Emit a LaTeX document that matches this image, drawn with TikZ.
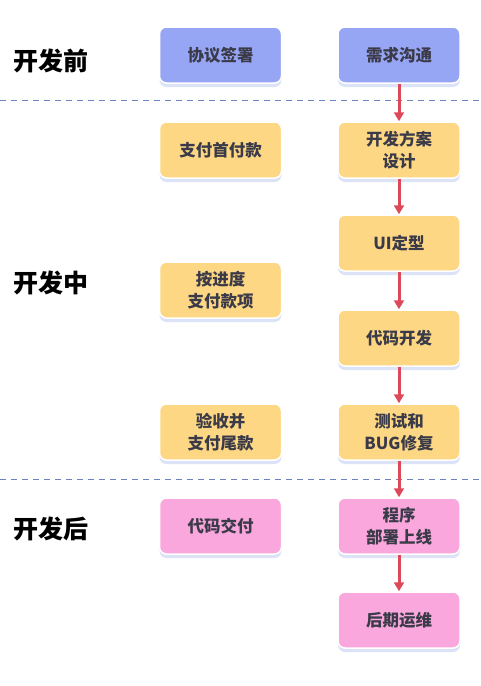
\documentclass[tikz,border=0pt]{standalone}
\usepackage{fontspec}
\setmainfont{Noto Sans CJK SC}
\usetikzlibrary{shadows,arrows.meta}
\definecolor{boxblue}{HTML}{97A6F4}
\definecolor{boxyellow}{HTML}{FDD783}
\definecolor{boxpink}{HTML}{F9A7DC}
\definecolor{boxtext}{HTML}{3A3A48}
\definecolor{arrowred}{HTML}{DC4A5A}
\definecolor{lineblue}{HTML}{6B84C0}
\definecolor{glow}{HTML}{9FB0EA}
\begin{document}
\begin{tikzpicture}[x=1pt,y=-1pt,
    box/.style={rectangle, rounded corners=7pt, draw=white, line width=1.5pt,
        minimum width=122pt, minimum height=56pt, align=center,
        font=\bfseries\fontsize{16.5}{22}\selectfont, text=boxtext,
        drop shadow={shadow xshift=0pt, shadow yshift=-4pt, fill=glow, opacity=0.35}},
    phase/.style={font=\bfseries\fontsize{25}{27}\selectfont, text=black},
    flow/.style={-{Triangle[width=10pt,length=9pt]}, draw=arrowred, line width=3pt},
    split/.style={draw=lineblue, line width=1pt, dash pattern=on 6pt off 5pt}]
        \useasboundingbox[fill=white] (0,0) rectangle (480,686);

        % phases
        \node[phase] (qian) at (51,61) {开发前};
        \node[phase] (zhong) at (51,283) {开发中};
        \node[phase] (hou) at (51,529) {开发后};

        \draw[split] (0,100) -- (480,100);
        \draw[split] (0,479) -- (480,479);

        % left column
        \node[box, fill=boxblue] (qianshu) at (220.5,55) {协议签署};
        \node[box, fill=boxyellow] (shoufu) at (220.5,150) {支付首付款};
        \node[box, fill=boxyellow] (jindu) at (220.5,290) {按进度\\支付款项};
        \node[box, fill=boxyellow] (weikuan) at (220.5,432) {验收并\\支付尾款};
        \node[box, fill=boxpink] (jiaofu) at (220.5,526) {代码交付};

        % right column
        \node[box, fill=boxblue] (xuqiu) at (399,55) {需求沟通};
        \node[box, fill=boxyellow] (fangan) at (399,150) {开发方案\\设计};
        \node[box, fill=boxyellow] (ui) at (399,243) {UI定型};
        \node[box, fill=boxyellow] (daima) at (399,338) {代码开发};
        \node[box, fill=boxyellow] (ceshi) at (399,432) {测试和\\BUG修复};
        \node[box, fill=boxpink] (bushu) at (399,526) {程序\\部署上线};
        \node[box, fill=boxpink] (yunwei) at (399,620) {后期运维};

        \foreach \a/\b in {xuqiu/fangan, fangan/ui, ui/daima, daima/ceshi, ceshi/bushu, bushu/yunwei}
            \draw[flow] (\a) -- (\b);
    \end{tikzpicture}
\end{document}
